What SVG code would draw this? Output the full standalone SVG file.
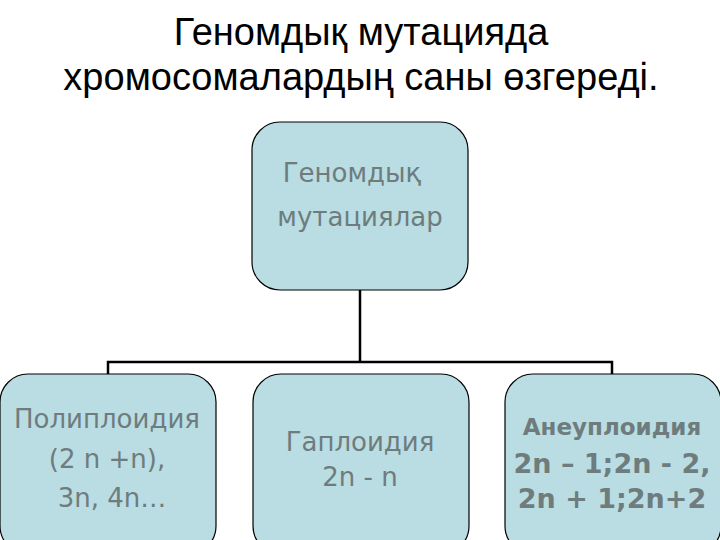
<svg xmlns="http://www.w3.org/2000/svg" width="720" height="540" viewBox="0 0 720 540">
<style>
.box{fill:#b9dde2;stroke:#000;stroke-width:1.2}
.t{font-family:"DejaVu Sans",sans-serif;fill:#6e7c7e;text-anchor:middle}
.h{font-family:"Liberation Sans",Arial,sans-serif;fill:#000;text-anchor:middle;font-size:38px}
</style>
<rect width="720" height="540" fill="#fff"/>
<text class="h" x="361" y="45">Геномдық мутацияда</text>
<text class="h" x="361" y="90">хромосомалардың саны өзгереді.</text>
<g id="connectors" fill="none" stroke="#000" stroke-width="2.5">
<path d="M360 290V362M108 374V362H612V374"/>
</g>
<g id="root"><rect class="box" x="252" y="122" width="216" height="168" rx="28"/>
<text class="t" x="352" y="182" font-size="26">Геномдық</text>
<text class="t" x="360" y="226" font-size="26">мутациялар</text></g>
<g id="poly"><rect class="box" x="0" y="374" width="216" height="180" rx="28"/>
<text class="t" x="107" y="428" font-size="26">Полиплоидия</text>
<text class="t" x="107" y="468" font-size="26">(2 n +n),</text>
<text class="t" x="112" y="507" font-size="26">3n,  4n…</text></g>
<g id="haplo"><rect class="box" x="253" y="374" width="216" height="180" rx="28"/>
<text class="t" x="360" y="451" font-size="26">Гаплоидия</text>
<text class="t" x="360" y="486" font-size="26">2n - n</text></g>
<g id="aneu"><rect class="box" x="505" y="374" width="216" height="180" rx="28"/>
<text class="t" x="612" y="435" font-size="23" font-weight="bold">Анеуплоидия</text>
<text class="t" x="612" y="473" font-size="27" font-weight="bold">2n – 1;2n - 2,</text>
<text class="t" x="612" y="508" font-size="27" font-weight="bold">2n + 1;2n+2</text></g>
</svg>
